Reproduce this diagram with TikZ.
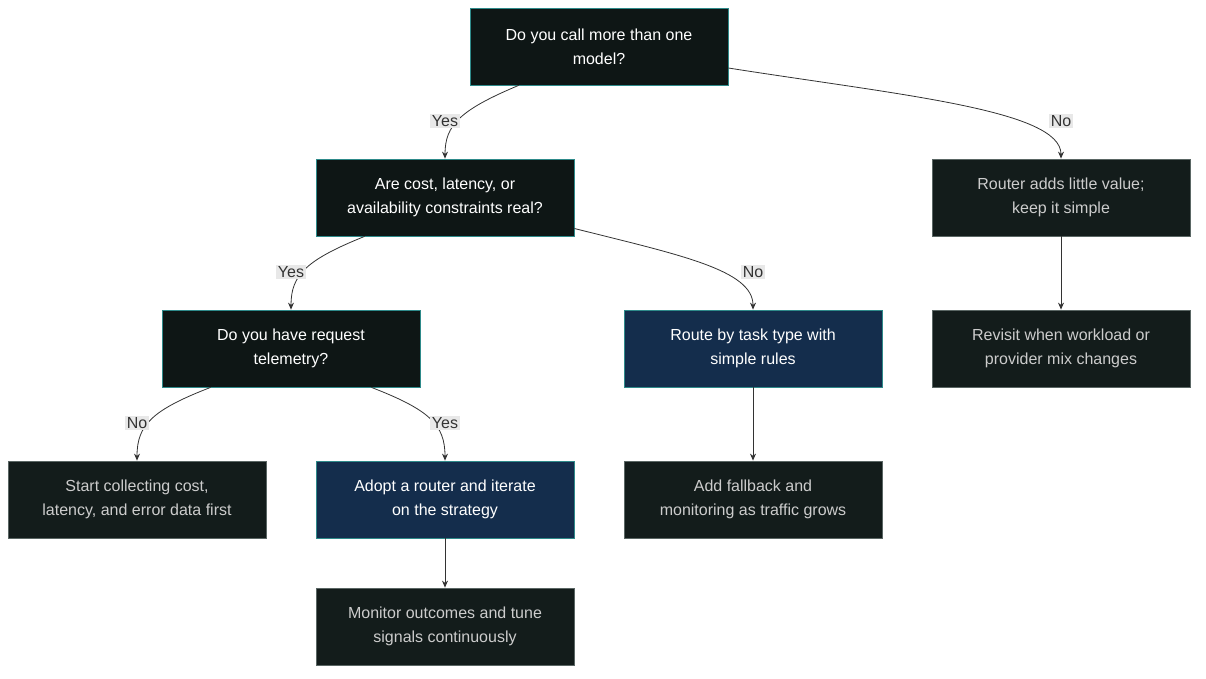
\documentclass[tikz,border=0pt]{standalone}
\usepackage{fontspec}
\setmainfont{Liberation Sans}
\usetikzlibrary{arrows.meta,calc}
\definecolor{dk}{HTML}{0E1615}
\definecolor{tm}{HTML}{131C1B}
\definecolor{bl}{HTML}{142D4C}
\definecolor{tl}{HTML}{2E8A8A}
\definecolor{gb}{HTML}{5A6664}
\definecolor{ln}{HTML}{333333}
\begin{document}
\begin{tikzpicture}[x=1pt,y=-1pt,
  base/.style={minimum width=258pt,minimum height=77pt,align=center,font=\fontsize{16pt}{24pt}\selectfont,inner sep=0pt,line width=0.8pt},
  dec/.style={base,fill=dk,draw=tl,text=white},
  blu/.style={base,fill=bl,draw=tl,text=white},
  term/.style={base,fill=tm,draw=gb,text=black!20},
  lab/.style={fill=black!9,text=ln,font=\fontsize{16pt}{18pt}\selectfont,inner sep=1.5pt},
  e/.style={draw=ln,line width=0.8pt,-{Stealth[length=7pt,width=6pt]}}]
\useasboundingbox (0,0) rectangle (1206,678);
\node[dec] (q1) at (599,46.5) {Do you call more than one\\model?};
\node[dec] (q2) at (445,197.5) {Are cost, latency, or\\availability constraints real?};
\node[term] (r1) at (1061,197.5) {Router adds little value;\\keep it simple};
\node[dec] (q3) at (291,348.5) {Do you have request\\telemetry?};
\node[blu] (rt) at (753,348.5) {Route by task type with\\simple rules};
\node[term] (rv) at (1061,348.5) {Revisit when workload or\\provider mix changes};
\node[term] (st) at (137,499.5) {Start collecting cost,\\latency, and error data first};
\node[blu] (ad) at (445,499.5) {Adopt a router and iterate\\on the strategy};
\node[term] (af) at (753,499.5) {Add fallback and\\monitoring as traffic grows};
\node[term] (mo) at (445,626.5) {Monitor outcomes and tune\\signals continuously};
\coordinate (a1) at ($(q1.south west)+(49,0)$);
\coordinate (a2) at ($(q1.east)+(0,21.5)$);
\coordinate (b1) at ($(q2.south west)+(49,0)$);
\coordinate (b2) at ($(q2.east)+(0,31)$);
\coordinate (c1) at ($(q3.south west)+(49,0)$);
\coordinate (c2) at ($(q3.south east)+(-49,0)$);
\path[e] (a1) .. controls (460,110) and (445,125) .. (q2.north);
\path[e] (a2) .. controls (900,95) and (1061,110) .. (r1.north);
\path[e] (b1) .. controls (306,260) and (291,275) .. (q3.north);
\path[e] (b2) .. controls (680,255) and (753,270) .. (rt.north);
\path[e] (c1) .. controls (152,410) and (137,425) .. (st.north);
\path[e] (c2) .. controls (430,410) and (445,425) .. (ad.north);
\path[e] (r1) -- (rv);
\path[e] (rt) -- (af);
\path[e] (ad) -- (mo);
\node[lab] (l1) at (445,121) {Yes};
\node[lab] (l2) at (1061,121) {No};
\node[lab] (l3) at (291,272) {Yes};
\node[lab] (l4) at (753,272) {No};
\node[lab] (l5) at (137,423) {No};
\node[lab] (l6) at (445,423) {Yes};
\end{tikzpicture}
\end{document}
